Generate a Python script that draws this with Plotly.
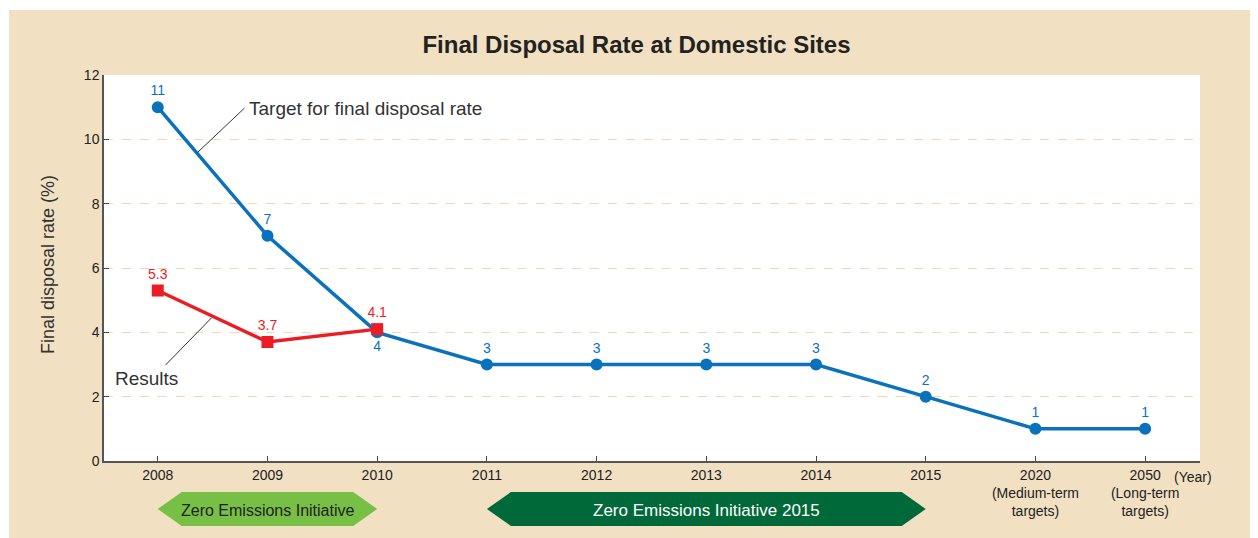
import plotly.graph_objects as go

# ---- data ----
years = ["2008", "2009", "2010", "2011", "2012", "2013", "2014", "2015", "2020", "2050"]
tick_text = ["2008", "2009", "2010", "2011", "2012", "2013", "2014", "2015",
             "2020<br>(Medium-term<br>targets)", "2050<br>(Long-term<br>targets)"]
target = [11, 7, 4, 3, 3, 3, 3, 2, 1, 1]
results_years = ["2008", "2009", "2010"]
results = [5.3, 3.7, 4.1]
y_ticks = [0, 2, 4, 6, 8, 10, 12]

BLUE = "#0a72bd"
RED = "#ec1c24"
BEIGE = "#f1e0c2"
FONT = "Liberation Sans, Arial, sans-serif"

OFF = 8  # page body margin
W, H = 1258, 538
# screen-pixel plot box: left 104, right 1200, top 75, bottom 461
ML = 104 - OFF
MT = 75 - OFF
MR = W + OFF - 1200
MB = H + OFF - 461
XR = [-0.49, 9.5]
PW = W - ML - MR
PH = H - MT - MB


def px_x(px):
    return (px - OFF - ML) / PW


def px_y(py):
    return (H - MB - (py - OFF)) / PH


def idx_to_paper(i):
    return (i - XR[0]) / (XR[1] - XR[0])


fig = go.Figure()

target_pos = ["top center"] * len(years)
target_pos[2] = "bottom center"

fig.add_trace(go.Scatter(
    x=years, y=target, mode="lines+markers+text",
    line=dict(color=BLUE, width=3.5),
    marker=dict(color=BLUE, size=12, symbol="circle"),
    text=[str(v) for v in target], textposition=target_pos,
    textfont=dict(color=BLUE, size=14, family=FONT),
    cliponaxis=False, showlegend=False, hoverinfo="x+y"))

fig.add_trace(go.Scatter(
    x=results_years, y=results, mode="lines+markers+text",
    line=dict(color=RED, width=3.5),
    marker=dict(color=RED, size=12, symbol="square"),
    text=[str(v) for v in results], textposition="top center",
    textfont=dict(color=RED, size=14, family=FONT),
    cliponaxis=False, showlegend=False, hoverinfo="x+y"))

shapes = []
# beige background panel (slight white strip at top/left as in reference)
shapes.append(dict(type="rect", xref="paper", yref="paper",
                   x0=px_x(9), x1=px_x(1270), y0=px_y(550), y1=px_y(10),
                   fillcolor=BEIGE, line=dict(width=0), layer="below"))
# white plot area
shapes.append(dict(type="rect", xref="paper", yref="paper",
                   x0=0, x1=1, y0=0, y1=1,
                   fillcolor="white", line=dict(width=0), layer="below"))

# leader lines (data coords)
shapes.append(dict(type="line", xref="x", yref="y",
                   x0=0.356, y0=9.57, x1=0.79, y1=10.97,
                   line=dict(color="#333333", width=1)))
shapes.append(dict(type="line", xref="x", yref="y",
                   x0=0.49, y0=4.45, x1=0.07, y1=2.98,
                   line=dict(color="#333333", width=1)))


# banners (hexagonal arrows) under x axis
def banner(i0, i1, color):
    x0 = idx_to_paper(i0)
    x1 = idx_to_paper(i1)
    s = 24 / PW
    yt, ym, yb = px_y(492), px_y(509), px_y(526)
    path = (f"M {x0},{ym} L {x0+s},{yt} L {x1-s},{yt} L {x1},{ym} "
            f"L {x1-s},{yb} L {x0+s},{yb} Z")
    return dict(type="path", xref="paper", yref="paper", path=path,
                fillcolor=color, line=dict(width=0), layer="above")


shapes.append(banner(0, 2, "#77bf45"))
shapes.append(banner(3, 7, "#00693a"))

annotations = [
    dict(text="Target for final disposal rate", x=0.81, y=10.97, xref="x", yref="y",
         xanchor="left", yanchor="middle", showarrow=False,
         font=dict(size=19, color="#333333", family=FONT)),
    dict(text="Results", x=-0.1, y=2.55, xref="x", yref="y",
         xanchor="center", yanchor="middle", showarrow=False,
         font=dict(size=19, color="#333333", family=FONT)),
    dict(text="(Year)", x=px_x(1193), y=px_y(477), xref="paper", yref="paper",
         xanchor="center", yanchor="middle", showarrow=False,
         font=dict(size=14, color="#222222", family=FONT)),
    dict(text="Zero Emissions Initiative", x=idx_to_paper(1), y=px_y(510),
         xref="paper", yref="paper", xanchor="center", yanchor="middle",
         showarrow=False, font=dict(size=16, color="#222222", family=FONT)),
    dict(text="Zero Emissions Initiative 2015", x=idx_to_paper(5), y=px_y(510),
         xref="paper", yref="paper", xanchor="center", yanchor="middle",
         showarrow=False, font=dict(size=17, color="white", family=FONT)),
    dict(text="Final disposal rate (%)", x=px_x(48), y=px_y(265), xref="paper", yref="paper",
         xanchor="center", yanchor="middle", showarrow=False, textangle=-90,
         font=dict(size=18, color="#333333", family=FONT)),
]

fig.update_layout(
    width=W, height=H,
    margin=dict(l=ML, r=MR, t=MT, b=MB, pad=0),
    paper_bgcolor="white", plot_bgcolor="rgba(0,0,0,0)",
    title=dict(text="<b>Final Disposal Rate at Domestic Sites</b>",
               x=(636.5 - OFF) / W, xanchor="center", y=1 - (45 - OFF) / H, yanchor="middle",
               font=dict(size=24, color="#222222", family=FONT)),
    font=dict(family=FONT, color="#222222"),
    shapes=shapes, annotations=annotations,
    xaxis=dict(type="category", categoryorder="array", categoryarray=years,
               range=XR, tickmode="array", tickvals=years, ticktext=tick_text,
               showline=True, linecolor="#555555", linewidth=1.5,
               ticks="inside", ticklen=5, tickcolor="#444444",
               showgrid=False, zeroline=False,
               tickfont=dict(size=14, color="#222222", family=FONT)),
    yaxis=dict(range=[0, 12], tickmode="array", tickvals=y_ticks,
               showline=True, linecolor="#555555", linewidth=1.5,
               ticks="inside", ticklen=5, tickcolor="#444444",
               showgrid=True, gridcolor="#f7d6ae", griddash="dash", gridwidth=1,
               zeroline=False,
               tickfont=dict(size=14, color="#222222", family=FONT)),
)

fig.write_html("out.html")
